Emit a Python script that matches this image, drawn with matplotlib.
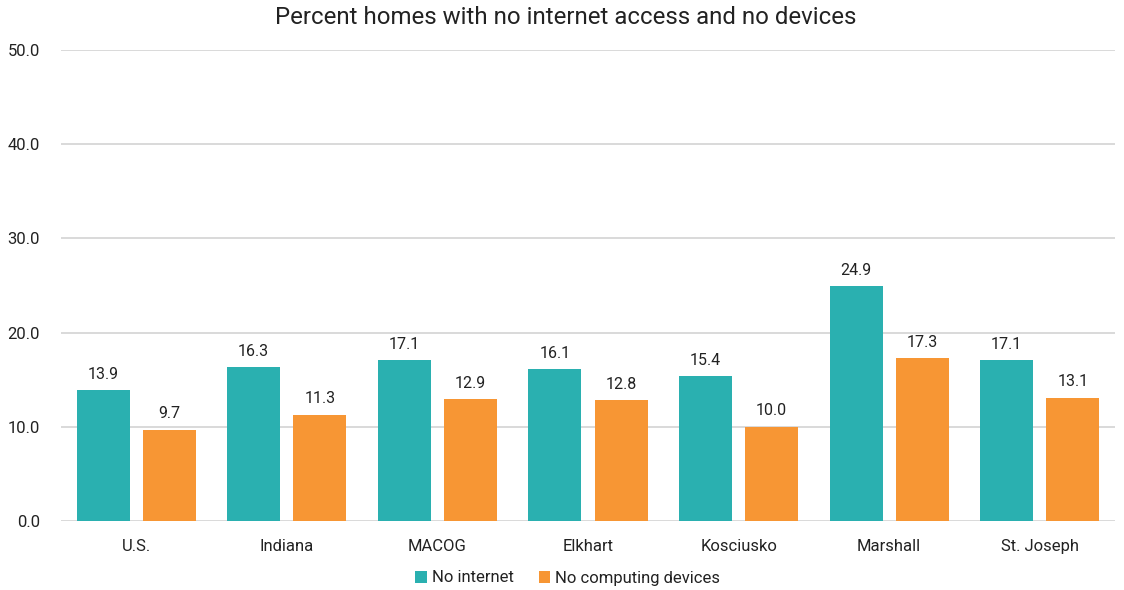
import matplotlib
matplotlib.use("Agg")
import matplotlib.pyplot as plt
import numpy as np

categories = ["U.S.", "Indiana", "MACOG", "Elkhart", "Kosciusko", "Marshall", "St. Joseph"]
no_internet = [13.9, 16.3, 17.1, 16.1, 15.4, 24.9, 17.1]
no_devices = [9.7, 11.3, 12.9, 12.8, 10.0, 17.3, 13.1]
series_names = ["No internet", "No computing devices"]
colors = ["#2AB0B0", "#F79634"]

plt.rcParams["font.family"] = ["Roboto", "DejaVu Sans"]

fig = plt.figure(figsize=(11.24, 5.9), dpi=100)
ax = fig.add_axes([61 / 1124, 1 - 521 / 590, (1115 - 61) / 1124, (521 - 50) / 590])

x = np.arange(len(categories))
w = 0.352
off = 0.22
b1 = ax.bar(x - off, no_internet, w, color=colors[0], label=series_names[0], zorder=3)
b2 = ax.bar(x + off, no_devices, w, color=colors[1], label=series_names[1], zorder=3)

for bars, vals in ((b1, no_internet), (b2, no_devices)):
    for rect, v in zip(bars, vals):
        ax.annotate(f"{v:.1f}", (rect.get_x() + rect.get_width() / 2, v),
                    xytext=(0, 6), textcoords="offset points",
                    ha="center", va="bottom", fontsize=11.5, color="#222222")

ax.set_xlim(-0.5, len(categories) - 0.5)
ax.set_ylim(0, 50)
ax.set_yticks(np.arange(0, 51, 10))
ax.set_yticklabels([f"{t:.1f}" for t in np.arange(0, 51, 10)])
ax.set_xticks(x)
ax.set_xticklabels(categories)
ax.tick_params(axis="both", length=0, labelsize=12, colors="#222222")
ax.tick_params(axis="x", pad=13)
ax.tick_params(axis="y", pad=15)
ax.grid(axis="y", color="#D9D9D9", linewidth=1.4, zorder=0)
for s in ax.spines.values():
    s.set_visible(False)

fig.text(566 / 1124, 1 - 18 / 590, "Percent homes with no internet access and no devices",
         fontsize=17.3, color="#222222", ha="center", va="center")

fig.legend(handles=[b1, b2], labels=series_names, loc="center",
           bbox_to_anchor=(0.505, 1 - 578 / 590), ncol=2, frameon=False,
           fontsize=12, handlelength=0.7, handleheight=0.7, handletextpad=0.3,
           columnspacing=1.5, labelcolor="#222222")

fig.savefig("out.png", dpi=100)
